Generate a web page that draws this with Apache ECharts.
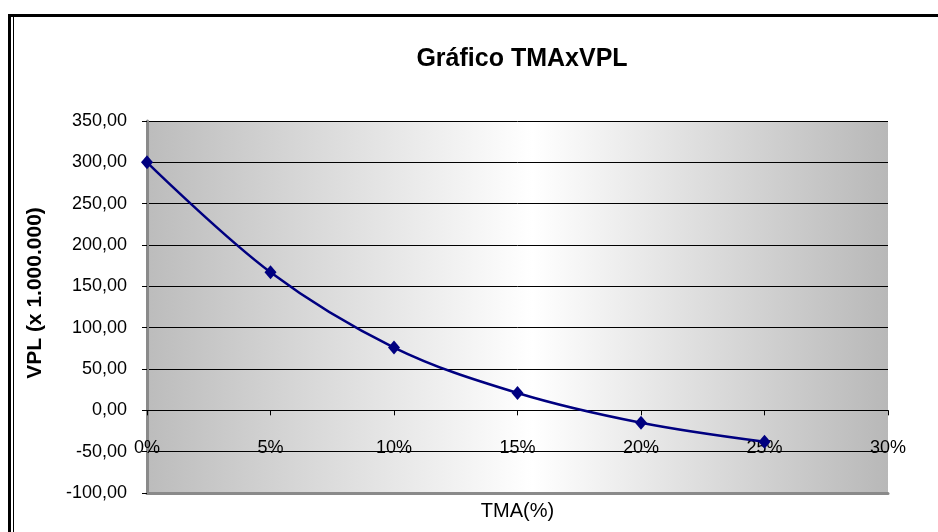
<!DOCTYPE html>
<html>
<head>
<meta charset="utf-8">
<script src="https://cdn.jsdelivr.net/npm/echarts@6/dist/echarts.min.js"></script>
<style>
html,body{margin:0;padding:0;background:#fff;}
#chart{width:938px;height:532px;}
</style>
</head>
<body>
<div id="chart"></div>
<script>
var titleText = 'Gráfico TMAxVPL';
var xName = 'TMA(%)';
var yName = 'VPL (x 1.000.000)';
var tmaValues = [0, 5, 10, 15, 20, 25];
var vplValues = [300, 167, 76, 21, -15, -38];
var xTicks = { min: 0, max: 30, interval: 5 };
var yTicks = { min: -100, max: 350, interval: 50 };

var seriesData = tmaValues.map(function (t, i) { return [t, vplValues[i]]; });
var FONT = '"Liberation Sans", Arial, sans-serif';

var chart = echarts.init(document.getElementById('chart'));
chart.setOption({
  animation: false,
  backgroundColor: '#ffffff',
  title: {
    text: titleText,
    left: 517,
    top: 42,
    textAlign: 'center',
    textStyle: { fontFamily: FONT, fontSize: 25, fontWeight: 'bold', color: '#000' }
  },
  grid: {
    left: 147, right: 50, top: 121, bottom: 39,
    outerBoundsMode: 'none',
    containLabel: false,
    show: true,
    borderWidth: 0,
    backgroundColor: {
      type: 'linear', x: 0, y: 0, x2: 1, y2: 0,
      colorStops: [
        { offset: 0, color: '#bcbcbc' },
        { offset: 0.52, color: '#ffffff' },
        { offset: 1, color: '#b8b8b8' }
      ]
    }
  },
  graphic: [
    { type: 'rect', z: 100, silent: true,
      shape: { x: 9.5, y: 15.5, width: 1200, height: 1200 },
      style: { fill: 'none', stroke: '#000', lineWidth: 3 } },
    { type: 'line', z: 100, silent: true,
      shape: { x1: 13.5, y1: 17, x2: 13.5, y2: 540 },
      style: { stroke: '#000', lineWidth: 1 } }
  ],
  xAxis: [
    {
      type: 'value',
      min: xTicks.min, max: xTicks.max, interval: xTicks.interval,
      axisLine: { show: true, onZero: true, onZeroAxisIndex: 0, lineStyle: { color: '#000', width: 1 } },
      axisTick: { show: true, length: 5, lineStyle: { color: '#000' } },
      axisLabel: { show: false },
      splitLine: { show: false }
    },
    {
      type: 'value', position: 'bottom',
      min: xTicks.min, max: xTicks.max, interval: xTicks.interval,
      name: xName, nameLocation: 'middle', nameGap: 8,
      nameTextStyle: { fontFamily: FONT, fontSize: 20, color: '#000' },
      axisLine: { show: true, onZero: false, lineStyle: { color: '#8a8a8a', width: 3 } },
      axisTick: { show: false },
      axisLabel: {
        inside: true, margin: 36, showMinLabel: true, showMaxLabel: true,
        formatter: function (v) { return v + '%'; },
        fontFamily: FONT, fontSize: 18, color: '#000'
      },
      splitLine: { show: false }
    }
  ],
  yAxis: [
    {
      type: 'value',
      min: yTicks.min, max: yTicks.max, interval: yTicks.interval,
      name: yName, nameLocation: 'middle', nameGap: 101,
      nameTextStyle: { fontFamily: FONT, fontSize: 21, fontWeight: 'bold', color: '#000', padding: [0, 0, 0, 28] },
      axisLine: { show: true, lineStyle: { color: '#000', width: 1 } },
      axisTick: { show: true, length: 5, lineStyle: { color: '#000' } },
      axisLabel: {
        margin: 20,
        formatter: function (v) { return v.toFixed(2).replace('.', ','); },
        fontFamily: FONT, fontSize: 18, color: '#000'
      },
      splitLine: { show: true, lineStyle: { color: '#000', width: 1 } }
    },
    {
      type: 'value', position: 'right',
      min: yTicks.min, max: yTicks.max, interval: yTicks.interval,
      axisLine: { show: true, lineStyle: { color: '#8a8a8a', width: 3 } },
      axisTick: { show: false }, axisLabel: { show: false }, splitLine: { show: false }
    }
  ],
  series: [
    {
      type: 'line',
      data: seriesData,
      smooth: 0.35,
      symbol: 'diamond',
      symbolSize: [12, 14],
      itemStyle: { color: '#000080' },
      lineStyle: { color: '#000080', width: 2.5 },
      z: 5
    }
  ]
});
</script>
</body>
</html>
